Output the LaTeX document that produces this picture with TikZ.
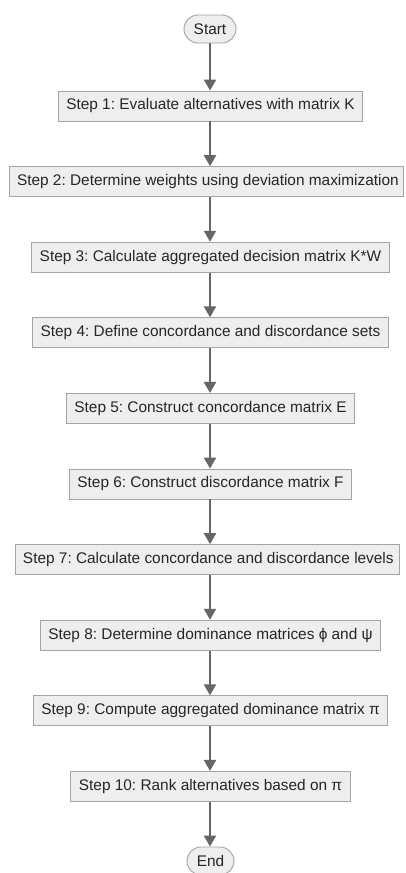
\documentclass[tikz,border=0pt]{standalone}
\usepackage{fontspec}
\setmainfont{Liberation Sans}
\usetikzlibrary{arrows.meta,shapes.misc}
\definecolor{boxfill}{HTML}{EEEEEE}
\definecolor{boxline}{HTML}{A4A4A4}
\definecolor{arrowc}{HTML}{666666}
\definecolor{textc}{HTML}{262626}
\frenchspacing
\begin{document}
\begin{tikzpicture}[x=1pt,y=1pt,
  base/.style={draw=boxline, fill=boxfill, line width=0.9pt, text=textc,
    font=\fontsize{15.4}{18}\selectfont},
  stepbox/.style={base, rectangle, minimum height=30pt, inner xsep=8pt, inner ysep=0pt},
  term/.style={base, rounded rectangle, minimum height=28pt, inner ysep=0pt, inner xsep=2pt},
  flow/.style={draw=arrowc, line width=2.2pt, -{Triangle[width=12pt,length=11pt]}}]
\useasboundingbox (0,0) rectangle (405,-873);
\fill[white] (0,0) rectangle (405,-873);

\node[term, minimum width=56pt] (start) at (210,-29) {Start};
\node[stepbox] (s1) at (210.5,-106) {Step 1: Evaluate alternatives with matrix K};
\node[stepbox] (s2) at (206,-181.6) {\makebox[378pt][l]{Step 2: Determine weights using deviation maximization}};
\node[stepbox] (s3) at (210.5,-257.2) {Step 3: Calculate aggregated decision matrix K*W};
\node[stepbox] (s4) at (210.5,-332.8) {Step 4: Define concordance and discordance sets};
\node[stepbox] (s5) at (210.5,-408.4) {Step 5: Construct concordance matrix E};
\node[stepbox] (s6) at (210.5,-484) {Step 6: Construct discordance matrix F};
\node[stepbox] (s7) at (207,-559.6) {\makebox[368pt][l]{Step 7: Calculate concordance and discordance levels}};
\node[stepbox] (s8) at (210.5,-635.2) {Step 8: Determine dominance matrices ϕ and ψ};
\node[stepbox] (s9) at (210.5,-710.8) {Step 9: Compute aggregated dominance matrix π};
\node[stepbox] (s10) at (210.5,-786.4) {Step 10: Rank alternatives based on π};
\node[term, minimum width=51pt] (end) at (210.5,-861) {End};

\draw[flow] (start.south) -- (start.south |- s1.north);
\foreach \a/\b in {s1/s2,s2/s3,s3/s4,s4/s5,s5/s6,s6/s7,s7/s8,s8/s9,s9/s10,s10/end}
  \draw[flow] (\a.south -| 210,0) -- (\b.north -| 210,0);
\end{tikzpicture}
\end{document}
